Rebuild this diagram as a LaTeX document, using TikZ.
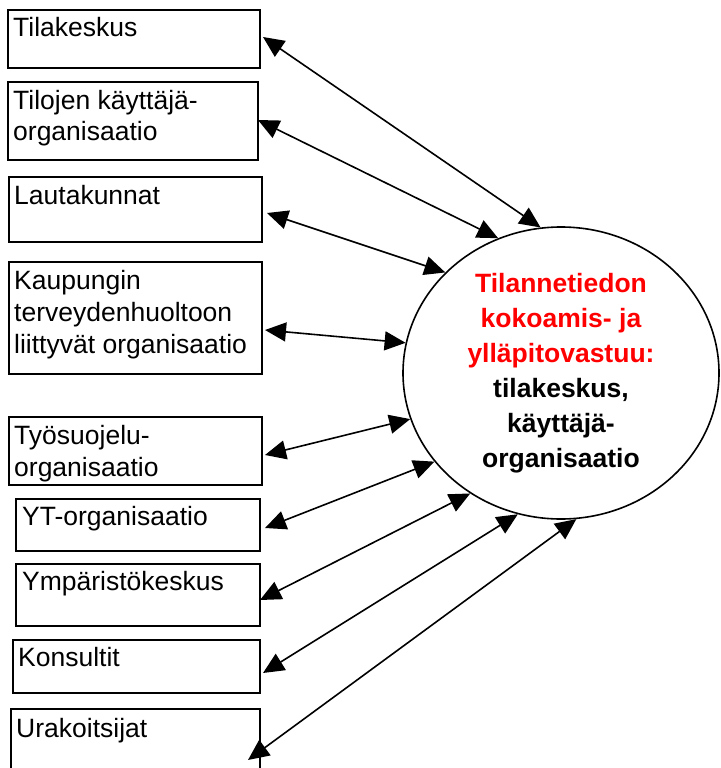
\documentclass[tikz,border=0pt]{standalone}
\usepackage{fontspec}
\setmainfont{Liberation Sans}
\usetikzlibrary{shapes.geometric,arrows.meta}
\begin{document}
\begin{tikzpicture}[x=1pt,y=-1pt,
  box/.style={draw,line width=1.5pt,anchor=north west,inner sep=0pt,outer sep=0pt},
  lbl/.style={anchor=base west,inner sep=0pt,font=\fontsize{26.5}{32}\selectfont},
  conn/.style={line width=1.6pt,{Triangle[length=21pt,width=19pt]}-{Triangle[length=21pt,width=19pt]}},
  hub/.style={ellipse,draw,line width=1.6pt,inner sep=0pt,minimum width=316pt,minimum height=292pt,
    align=center,font=\fontsize{26.5}{35}\selectfont\bfseries}]
\clip (0,0) rectangle (720,768);
\fill[white] (0,0) rectangle (720,768);
% boxes
\node[box,minimum width=252pt,minimum height=58pt] (b1) at (8,10) {};
\node[box,minimum width=250pt,minimum height=78pt] (b2) at (8,82) {};
\node[box,minimum width=253pt,minimum height=65pt] (b3) at (9,177) {};
\node[box,minimum width=253pt,minimum height=112pt] (b4) at (9,262) {};
\node[box,minimum width=253pt,minimum height=68pt] (b5) at (9,417) {};
\node[box,minimum width=244pt,minimum height=52pt] (b6) at (16,499) {};
\node[box,minimum width=244pt,minimum height=62pt] (b7) at (16,564) {};
\node[box,minimum width=247pt,minimum height=53pt] (b8) at (13,640) {};
\node[box,minimum width=249pt,minimum height=70pt] (b9) at (11,709) {};
% labels
\node[lbl] (t1) at ([xshift=5pt,yshift=-27pt]b1.north west) {Tilakeskus};
\node[lbl] (t2) at ([xshift=5pt,yshift=-27pt]b2.north west) {\begin{tabular}[t]{@{}l@{}}Tilojen käyttäjä-\\organisaatio\end{tabular}};
\node[lbl] (t3) at ([xshift=5pt,yshift=-27pt]b3.north west) {Lautakunnat};
\node[lbl] (t4) at ([xshift=5pt,yshift=-27pt]b4.north west) {\begin{tabular}[t]{@{}l@{}}Kaupungin\\terveydenhuoltoon\\liittyvät organisaatio\end{tabular}};
\node[lbl] (t5) at ([xshift=5pt,yshift=-27pt]b5.north west) {\begin{tabular}[t]{@{}l@{}}Työsuojelu-\\organisaatio\end{tabular}};
\node[lbl] (t6) at ([xshift=6pt,yshift=-26pt]b6.north west) {YT-organisaatio};
\node[lbl] (t7) at ([xshift=6pt,yshift=-26pt]b7.north west) {Ympäristökeskus};
\node[lbl] (t8) at ([xshift=5pt,yshift=-26pt]b8.north west) {Konsultit};
\node[lbl] (t9) at ([xshift=5pt,yshift=-28pt]b9.north west) {Urakoitsijat};
% hub
\node[hub] (c) at (561,373) {\textcolor{red}{Tilannetiedon}\\\textcolor{red}{kokoamis- ja}\\\textcolor{red}{ylläpitovastuu:}\\tilakeskus,\\käyttäjä-\\organisaatio};
% connectors
\draw[conn] ([xshift=3pt,yshift=2pt]b1.east) -- (c.98.2);
\draw[conn] ([xshift=0pt,yshift=1pt]b2.east) -- (c.115);
\draw[conn] ([xshift=5pt,yshift=-3.5pt]b3.east) -- (c.139.2);
\draw[conn] ([xshift=3pt,yshift=-12pt]b4.east) -- (c.169.9);
\draw[conn] ([xshift=3pt,yshift=-4pt]b5.east) -- (c.197.4);
\draw[conn] ([xshift=5pt,yshift=-3pt]b6.east) -- (c.215.3);
\draw[conn] ([xshift=0pt,yshift=-5pt]b7.east) -- (c.233.9);
\draw[conn] ([xshift=3pt,yshift=-6.5pt]b8.east) -- (c.253.3);
\draw[conn] ([xshift=-12pt,yshift=19pt]b9.south east) -- (c.276.3);
\end{tikzpicture}
\end{document}
